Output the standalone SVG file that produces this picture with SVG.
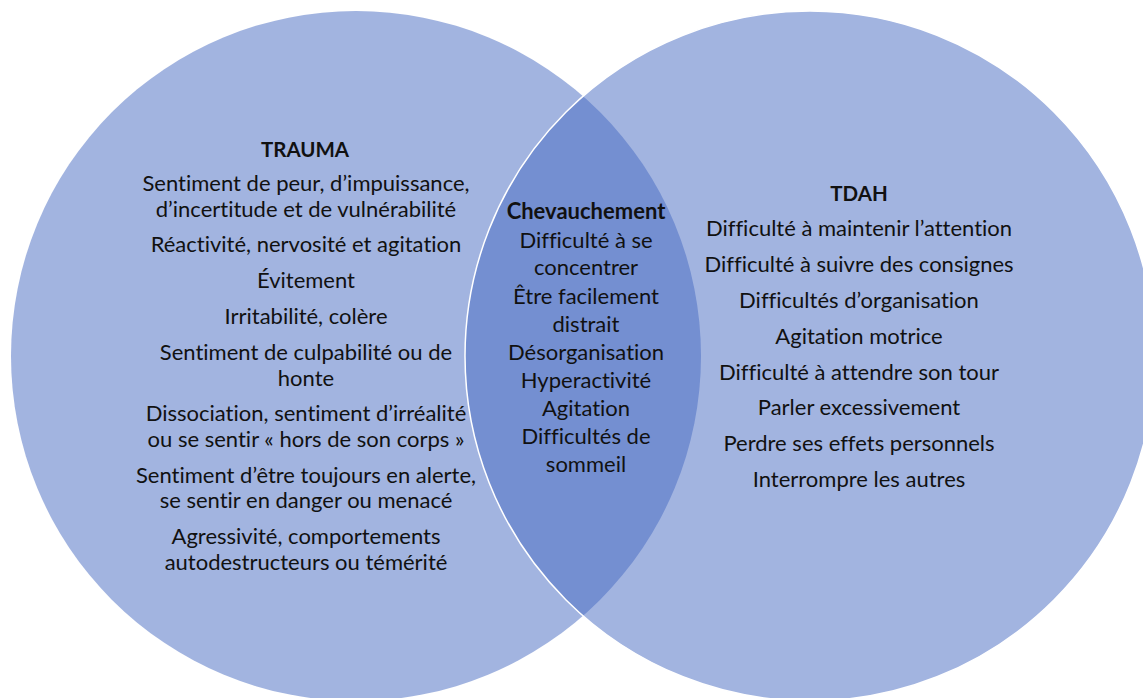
<svg xmlns="http://www.w3.org/2000/svg" width="1143" height="698" viewBox="0 0 1143 698">
<style>
  .c { fill: #4569C1; fill-opacity: 0.5; }
  .t { font-family: Lato, "Open Sans", sans-serif; font-size: 22px; fill: #111; text-anchor: middle; font-variant-ligatures: none; }
  .b { font-weight: bold; }
  .h { font-size: 20.5px; }
</style>
<rect width="1143" height="698" fill="#ffffff"/>
<g id="trauma">
  <circle class="c" cx="356" cy="356" r="345"/>
</g>
<g id="tdah">
  <circle class="c" cx="810" cy="356" r="345" stroke="#ffffff" stroke-width="1.5"/>
</g>
<g id="connectors"></g>
<g id="trauma-text" class="t">
  <text x="305" y="157" class="b h">TRAUMA</text>
  <text x="306" y="191">Sentiment de peur, d’impuissance,</text>
  <text x="306" y="217">d’incertitude et de vulnérabilité</text>
  <text x="306" y="252">Réactivité, nervosité et agitation</text>
  <text x="306" y="288">Évitement</text>
  <text x="306" y="324">Irritabilité, colère</text>
  <text x="306" y="360">Sentiment de culpabilité ou de</text>
  <text x="306" y="386">honte</text>
  <text x="306" y="421">Dissociation, sentiment d’irréalité</text>
  <text x="306" y="447">ou se sentir « hors de son corps »</text>
  <text x="306" y="483">Sentiment d’être toujours en alerte,</text>
  <text x="306" y="508">se sentir en danger ou menacé</text>
  <text x="306" y="544">Agressivité, comportements</text>
  <text x="306" y="570">autodestructeurs ou témérité</text>
</g>
<g id="overlap-text" class="t">
  <text x="586" y="219" class="b">Chevauchement</text>
  <text x="586" y="248">Difficulté à se</text>
  <text x="586" y="275">concentrer</text>
  <text x="586" y="304">Être facilement</text>
  <text x="586" y="332">distrait</text>
  <text x="586" y="360">Désorganisation</text>
  <text x="586" y="388">Hyperactivité</text>
  <text x="586" y="416">Agitation</text>
  <text x="586" y="444">Difficultés de</text>
  <text x="586" y="472">sommeil</text>
</g>
<g id="tdah-text" class="t">
  <text x="859" y="201" class="b h">TDAH</text>
  <text x="859" y="236">Difficulté à maintenir l’attention</text>
  <text x="859" y="272">Difficulté à suivre des consignes</text>
  <text x="859" y="308">Difficultés d’organisation</text>
  <text x="859" y="344">Agitation motrice</text>
  <text x="859" y="380">Difficulté à attendre son tour</text>
  <text x="859" y="415">Parler excessivement</text>
  <text x="859" y="451">Perdre ses effets personnels</text>
  <text x="859" y="487">Interrompre les autres</text>
</g>
</svg>
